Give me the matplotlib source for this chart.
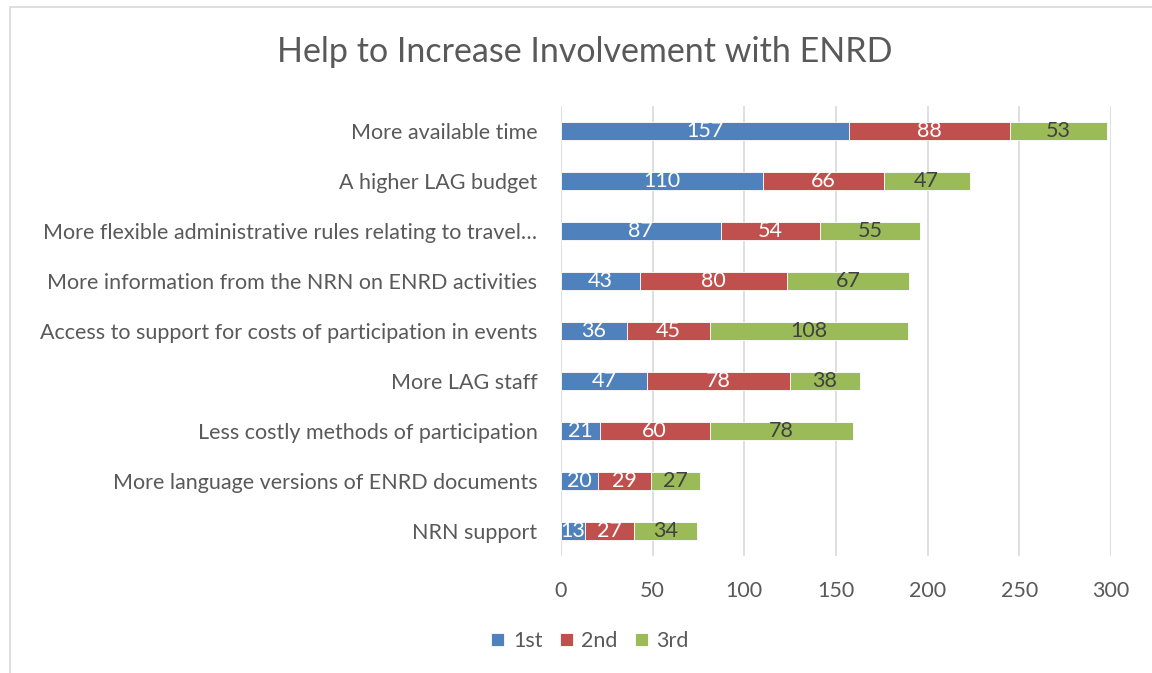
import numpy as np
import matplotlib.pyplot as plt
from matplotlib.patches import Rectangle

plt.rcParams['font.family'] = ['Lato', 'DejaVu Sans']

categories = [
    "More available time",
    "A higher LAG budget",
    "More flexible administrative rules relating to travel…",
    "More information from the NRN on ENRD activities",
    "Access to support for costs of participation in events",
    "More LAG staff",
    "Less costly methods of participation",
    "More language versions of ENRD documents",
    "NRN support",
]
first = [157, 110, 87, 43, 36, 47, 21, 20, 13]
second = [88, 66, 54, 80, 45, 78, 60, 29, 27]
third = [53, 47, 55, 67, 108, 38, 78, 27, 34]
series_names = ["1st", "2nd", "3rd"]
colors = ["#4F81BD", "#C0504D", "#9BBB59"]
label_colors = ["white", "white", "#404040"]
grey = "#595959"

fig = plt.figure(figsize=(11.52, 6.73), dpi=100)
ax = fig.add_axes([561 / 1152, 1 - 556 / 673, 550 / 1152, 450 / 673])

# outer chart border (only top/left visible in the reference)
fig.patches.append(Rectangle((10 / 1152, -0.1), 1.2, 1 - 7 / 673 + 0.1,
                             transform=fig.transFigure, fill=False,
                             edgecolor="#D9D9D9", linewidth=1.2))

y = np.arange(len(categories))
left = np.zeros(len(categories))
for vals, name, c, lc in zip([first, second, third], series_names, colors, label_colors):
    bars = ax.barh(y, vals, left=left, height=0.36, color=c, edgecolor="white",
                   linewidth=0.6, label=name, zorder=3)
    for b, v in zip(bars, vals):
        ax.text(b.get_x() + b.get_width() / 2, b.get_y() + b.get_height() / 2, str(v),
                ha="center", va="center", color=lc, fontsize=15.5, zorder=4)
    left += np.array(vals)

ax.set_ylim(len(categories) - 0.5, -0.5)
ax.set_xlim(0, 300)
ax.set_xticks(range(0, 301, 50))
ax.set_yticks(y)
ax.set_yticklabels(categories)
ax.tick_params(axis="both", length=0, labelsize=15.5, colors=grey)
ax.tick_params(axis="y", pad=17)
ax.tick_params(axis="x", pad=18)
ax.grid(axis="x", color="#D9D9D9", linewidth=1.2, zorder=0)
for s in ax.spines.values():
    s.set_visible(False)

fig.text(585 / 1152, 1 - 52 / 673, "Help to Increase Involvement with ENRD",
         ha="center", va="center", fontsize=24.5, color=grey)

fig.legend(loc="center", bbox_to_anchor=(590 / 1152, 1 - 641 / 673), ncol=3,
           frameon=False, fontsize=15.5, labelcolor=grey, handlelength=0.6,
           handleheight=0.6, handletextpad=0.4, columnspacing=0.8)

fig.savefig("out.png", dpi=100)
